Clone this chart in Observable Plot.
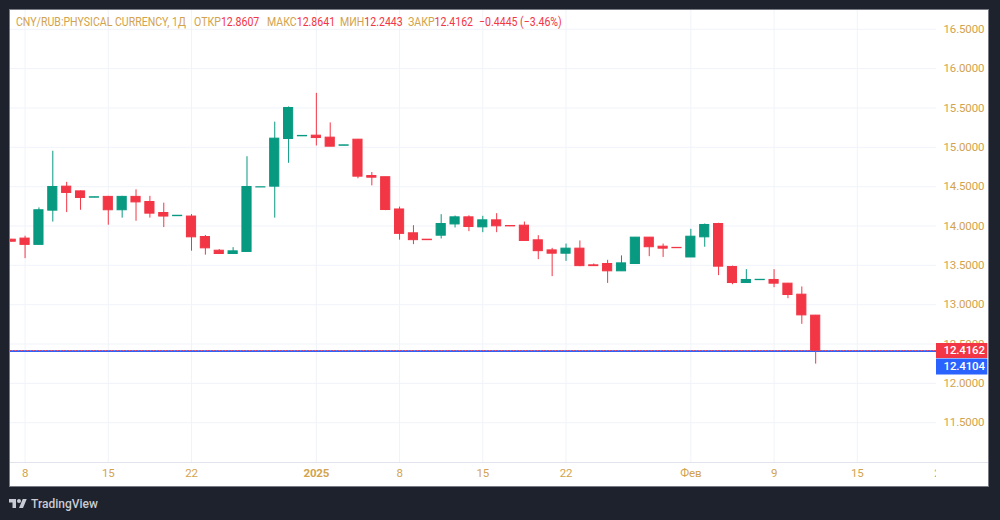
<!DOCTYPE html>
<meta charset="utf-8">
<div id="frame">
	<div id="legend"></div>
	<div id="plot"></div>
</div>
<div id="brand">
	<svg viewBox="0 0 36 28" width="18" height="14" fill="#c8cbd3"><path d="M14 22H7V11H0V4h14v18zM28 22h-8l7.5-18h8L28 22z"/><circle cx="20" cy="8" r="4"/></svg>
	<span>TradingView</span>
</div>
<script src="https://cdn.jsdelivr.net/npm/d3@7"></script>
<script src="https://cdn.jsdelivr.net/npm/@observablehq/plot@0.6"></script>
<script>

// one entry per daily bar, the first bar sits at index -1
const opens = [13.826, 13.84, 13.76, 14.195, 14.50, 14.44, 14.36, 14.37, 14.20, 14.37, 14.305, 14.165, 14.125, 14.12, 13.86, 13.686, 13.644, 13.67, 14.49, 14.50, 15.106, 15.14, 15.148, 15.123, 15.02, 15.097, 14.635, 14.62, 14.21, 13.907, 13.826, 13.877, 14.02, 14.11, 13.983, 14.072, 14.0, 14.004, 13.818, 13.69, 13.648, 13.712, 13.5, 13.517, 13.424, 13.517, 13.852, 13.737, 13.722, 13.60, 13.856, 14.025, 13.479, 13.275, 13.312, 13.314, 13.267, 13.127, 12.8607];
const highs = [13.83, 13.87, 14.23, 14.95, 14.555, 14.445, 14.365, 14.377, 14.377, 14.46, 14.377, 14.29, 14.13, 14.145, 13.88, 13.70, 13.725, 14.88, 14.492, 15.32, 15.513, 15.145, 15.686, 15.31, 15.025, 15.10, 14.68, 14.62, 14.24, 14.004, 13.826, 14.144, 14.127, 14.13, 14.123, 14.157, 14.0, 14.05, 13.877, 13.716, 13.77, 13.81, 13.517, 13.564, 13.62, 13.852, 13.852, 13.77, 13.722, 13.958, 14.025, 14.034, 13.49, 13.445, 13.316, 13.445, 13.27, 13.225, 12.8641];
const lows = [13.80, 13.585, 13.76, 14.05, 14.17, 14.20, 14.36, 14.01, 14.10, 14.06, 14.10, 13.98, 14.125, 13.68, 13.63, 13.644, 13.644, 13.67, 14.49, 14.10, 14.797, 15.14, 15.017, 15.008, 15.02, 14.60, 14.51, 14.195, 13.82, 13.763, 13.82, 13.835, 13.975, 13.928, 13.915, 13.915, 13.995, 13.81, 13.572, 13.356, 13.55, 13.483, 13.49, 13.27, 13.424, 13.51, 13.61, 13.60, 13.718, 13.60, 13.73, 13.369, 13.254, 13.275, 13.312, 13.216, 13.076, 12.75, 12.2443];
const closes = [13.80, 13.76, 14.20, 14.496, 14.42, 14.356, 14.365, 14.20, 14.37, 14.30, 14.157, 14.12, 14.13, 13.856, 13.716, 13.644, 13.678, 14.496, 14.492, 15.11, 15.50, 15.145, 15.118, 15.008, 15.025, 14.627, 14.614, 14.203, 13.90, 13.82, 13.82, 14.025, 14.11, 13.987, 14.072, 13.996, 13.995, 13.81, 13.68, 13.648, 13.712, 13.49, 13.49, 13.424, 13.525, 13.852, 13.73, 13.712, 13.718, 13.864, 14.013, 13.483, 13.275, 13.314, 13.316, 13.267, 13.123, 12.864, 12.4162];

const price_ticks = [11.5, 12, 12.5, 13, 13.5, 14, 14.5, 15, 15.5, 16, 16.5];
const date_ticks = [0, 6, 12, 21, 27, 33, 39, 48, 54, 60, 66];
const date_labels = ['8', '15', '22', '2025', '8', '15', '22', 'Фев', '9', '15', '22'];

const symbol_name = 'CNY/RUB:PHYSICAL CURRENCY, 1Д';
const last_close = 12.4162;
const bid_price = 12.4104;
const ohlc_labels = [['ОТКР', '12.8607'], ['МАКС', '12.8641'], ['МИН', '12.2443'], ['ЗАКР', '12.4162']];
const change_text = '−0.4445 (−3.46%)';

const red = '#f23645';
const green = '#089981';
const blue = '#2962ff';
const gold = '#d2a34e';
const grid = '#f0f3fa';

let bars = [];
for (let n = 0; n < opens.length; n++) {
	bars.push({'index': n - 1, 'open': opens[n], 'high': highs[n], 'low': lows[n], 'close': closes[n]});
}
const color = (d) => d.close >= d.open ? green : red;
const half_bar = 0.33;

const x_left = -1.05;
const x_frame = 65.71;
const x_edge = 69.41;
const y_bottom = 10.994;
const y_top = 16.739;
const y_below = 10.69;

const plot = Plot.plot({
	width: 978,
	height: 476,
	marginLeft: 0,
	marginRight: 52,
	marginTop: 0,
	marginBottom: 24,
	style: { background: 'white', fontFamily: 'Roboto, sans-serif', fontSize: '11.5px', letterSpacing: '-0.15px' },
	x: { type: 'linear', domain: [x_left, x_frame], axis: null },
	y: { domain: [y_bottom, y_top], axis: null },
	marks: [
		Plot.ruleX(date_ticks.slice(0, -1), { stroke: grid, strokeWidth: 1 }),
		Plot.ruleY(price_ticks, { stroke: grid, strokeWidth: 1 }),
		Plot.ruleY([bid_price], { stroke: blue, strokeWidth: 1.8 }),
		Plot.ruleY([last_close], { stroke: red, strokeWidth: 0.8, strokeDasharray: '2 1' }),
		Plot.ruleX(bars, { x: 'index', y1: 'low', y2: 'high', stroke: color, strokeWidth: 1 }),
		Plot.rect(bars, { x1: (d) => d.index - half_bar, x2: (d) => d.index + half_bar, y1: 'open', y2: 'close', fill: color, stroke: color, strokeWidth: 1 }),
		Plot.axisX(date_ticks.filter((d) => d != 21), { anchor: 'bottom', tickSize: 0, tickPadding: 6, label: null, fill: gold, tickFormat: (d) => date_labels[date_ticks.indexOf(d)] }),
		Plot.axisX([21], { anchor: 'bottom', tickSize: 0, tickPadding: 6, label: null, fill: gold, fontWeight: 'bold', tickFormat: (d) => date_labels[date_ticks.indexOf(d)] }),
		// the price column hides whatever date label runs into it
		Plot.rect([0], { x1: x_frame, x2: x_edge + 0.1, y1: y_below, y2: y_bottom, fill: 'white' }),
		Plot.ruleY([y_bottom], { x1: x_left, x2: x_edge + 0.1, stroke: '#e0e3eb', strokeWidth: 1 }),
		Plot.axisY(price_ticks, { anchor: 'right', tickSize: 0, tickPadding: 7, label: null, fill: gold, textAnchor: 'start', tickFormat: d3.format('.4f') }),
		Plot.ruleY([last_close], { x1: x_frame, x2: x_edge, stroke: red, strokeWidth: 15 }),
		Plot.ruleY([bid_price], { x1: x_frame, x2: x_edge, stroke: blue, strokeWidth: 16, dy: 15.5 }),
		Plot.text([last_close], { x: x_frame, y: (d) => d, dx: 7, text: d3.format('.4f'), textAnchor: 'start', fill: 'white', fontWeight: 500 }),
		Plot.text([bid_price], { x: x_frame, y: (d) => d, dx: 7, dy: 15.5, text: d3.format('.4f'), textAnchor: 'start', fill: 'white', fontWeight: 500 }),
	],
});
document.querySelector('#plot').append(plot);

const legend = document.querySelector('#legend');
const add_span = (text, left, fill) => {
	let span = document.createElement('span');
	span.textContent = text;
	span.style.left = left + 'px';
	span.style.color = fill;
	legend.append(span);
	return span;
};
const label_lefts = [184, 257, 330, 398];
add_span(symbol_name, 6, gold);
ohlc_labels.forEach(([label, value], n) => {
	let span = add_span(label, label_lefts[n], gold);
	let number = document.createElement('b');
	number.textContent = value;
	span.append(number);
});
add_span(change_text, 469, red);

</script>
<style>

html, body {
	margin: 0;
	height: 100%;
	background: #1e222d;
	overflow: hidden;
}

#frame {
	position: absolute;
	left: 9px;
	top: 9px;
	width: 978px;
	height: 476px;
	border: 1px solid #787b86;
}

#plot > svg {
	display: block;
}

#legend {
	position: absolute;
	left: 0;
	top: 4px;
	width: 100%;
	height: 16px;
	font: 12px/16px Roboto, sans-serif;
}

#legend span {
	position: absolute;
	top: 0;
	white-space: nowrap;
	transform: scaleX(0.88);
	transform-origin: left center;
}

#legend b {
	font-weight: normal;
	color: #f23645;
}

#brand {
	position: absolute;
	left: 9px;
	top: 495px;
	display: flex;
	align-items: center;
	gap: 4px;
	color: #c8cbd3;
	font: 500 12px/18px Roboto, sans-serif;
}

</style>
